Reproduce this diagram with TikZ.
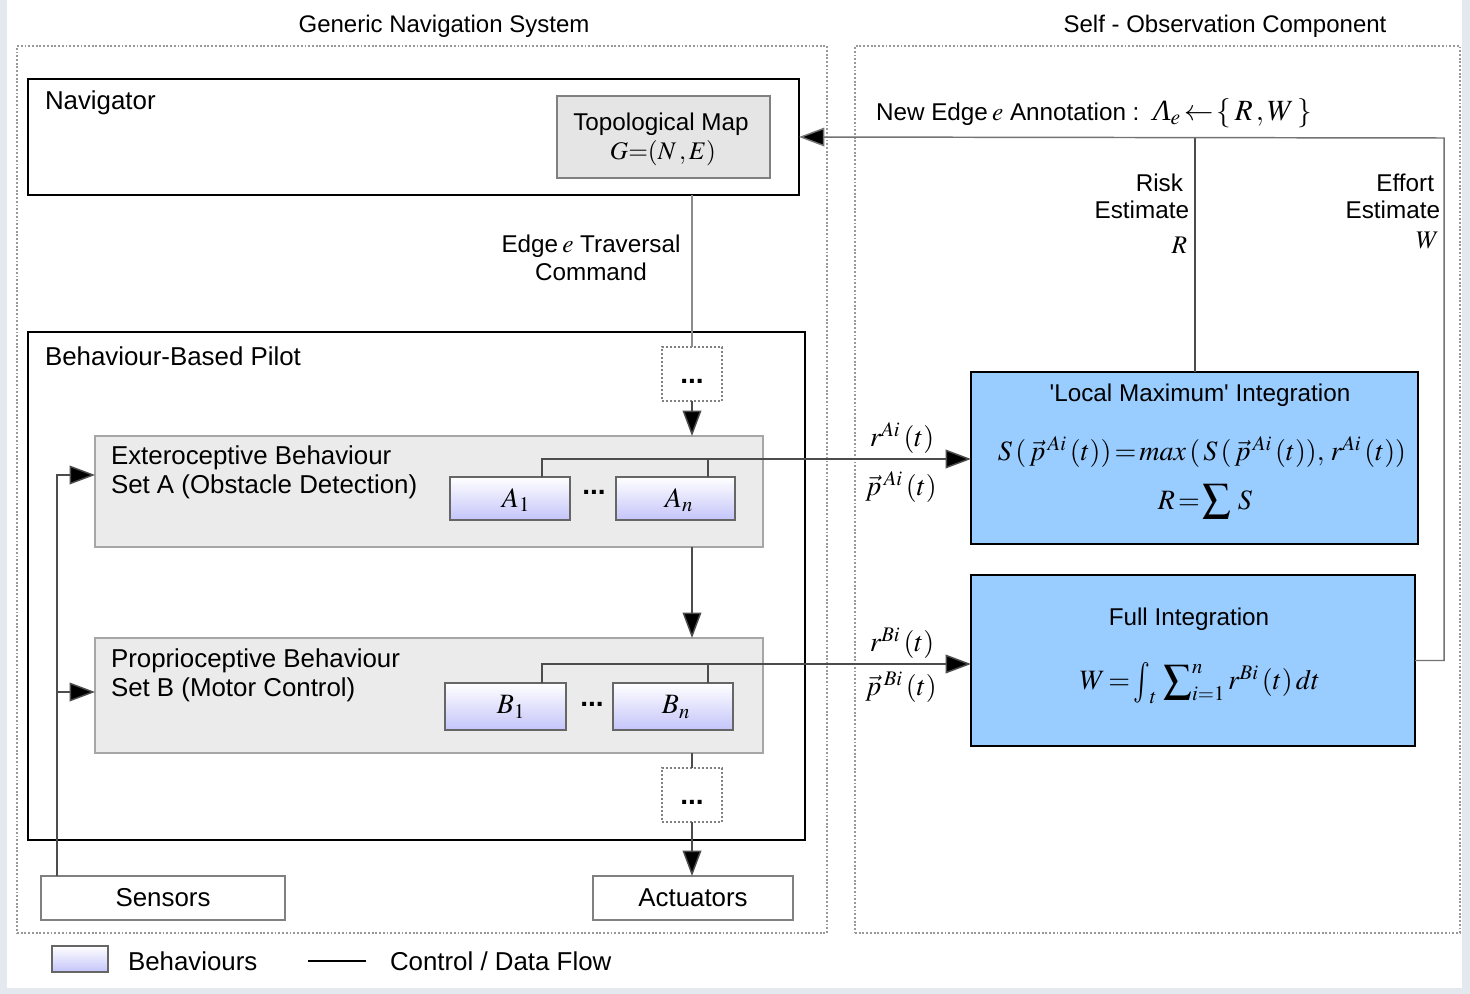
\documentclass[tikz,border=0pt]{standalone}
\usepackage{mathptmx}
\usepackage[no-math]{fontspec}
\setmainfont{Liberation Sans}
\newfontfamily\serifface{Liberation Serif}
\usetikzlibrary{arrows.meta,fit,calc}

\definecolor{pagebg}{RGB}{228,233,239}
\definecolor{behv}{RGB}{196,196,250}
\definecolor{intblue}{RGB}{153,204,255}
\definecolor{setgray}{RGB}{235,235,235}

% a moderately enlarged integral sign
\newcommand{\tallint}{\mathop{\vcenter{\hbox{\scalebox{1}[1.45]{$\int$}}}}\nolimits}

\begin{document}
\begin{tikzpicture}[x=0.75pt,y=-0.75pt,
  every node/.style={inner sep=0pt, outer sep=0pt},
  txt/.style={font=\fontsize{19.4}{22}\selectfont},
  sml/.style={font=\fontsize{18.2}{21}\selectfont},
  ttl/.style={font=\fontsize{18}{20}\selectfont},
  mth/.style={font=\fontsize{19}{22}\selectfont},
  big/.style={font=\fontsize{21}{24}\selectfont},
  dots/.style={font=\fontsize{21}{22}\bfseries},
  frame/.style={draw=black, line width=2.2pt},
  grp/.style={draw=black!40, line width=1pt, dash pattern=on 1.4pt off 1.4pt},
  setbox/.style={draw=black!35, fill=setgray, line width=1.1pt},
  topobox/.style={draw=black!50, fill=black!10, line width=1.1pt},
  beh/.style={draw=black!60, line width=1pt, top color=white, bottom color=behv},
  dotbox/.style={draw=black!50, line width=1pt, dash pattern=on 1.5pt off 1.5pt, fill=white},
  iobox/.style={draw=black!50, line width=1pt, fill=white},
  integ/.style={draw=black, line width=2.2pt, fill=intblue},
  flow/.style={draw=black!70, line width=1.1pt},
  arr/.style={flow, -{Triangle[length=19pt,width=14pt,fill=black]}},
]
% page and margins
\fill[pagebg] (0,0) rectangle (1470,994);
\fill[white] (7,0) rectangle (1462,988);
\useasboundingbox (0,0) rectangle (1470,994);

% group titles and frames
\node[ttl] (t1) at (444,26) {Generic Navigation System};
\node[ttl] (t2) at (1225,26) {Self - Observation Component};
\node[grp, fit={(17,46) (827,933)}] (gns) {};
\node[grp, fit={(855,46) (1460,933)}] (soc) {};

% navigator
\node[frame, fit={(28,79) (799,195)}] (nav) {};
\node[txt, anchor=west] (navl) at (45,103) {Navigator};
\node[topobox, fit={(557,96) (770,178)}] (topo) {};
\node[sml] (topol) at (661,124) {Topological Map};
\node[mth] (topog) at (663,153) {$G{=}(N\,,E)$};

\node[sml, align=center] (cmd) at (591,258) {Edge\,{\fontsize{19}{20}\selectfont$e$} Traversal\\Command};

% pilot
\node[frame, fit={(28,332) (805,840)}] (pilot) {};
\node[txt, anchor=west] (pilotl) at (45,356) {Behaviour-Based Pilot};

\node[dotbox, fit={(662,347) (722,401)}] (d1) {};
\node[dots] (d1l) at (692,381) {...};

% exteroceptive set
\node[setbox, fit={(95,436) (763,547)}] (ext) {};
\node[txt, anchor=west] (extl1) at (111,458) {Exteroceptive Behaviour};
\node[txt, anchor=west] (extl2) at (111,487) {Set A (Obstacle Detection)};
\node[beh, fit={(450,477) (570,520)}] (a1) {};
\node[big] (a1l) at (516,500) {$A_1$};
\node[beh, fit={(616,477) (735,520)}] (an) {};
\node[big] (anl) at (679,500) {$A_n$};
\node[dots] (adots) at (594,492) {...};

% proprioceptive set
\node[setbox, fit={(95,638) (763,753)}] (pro) {};
\node[txt, anchor=west] (prol1) at (111,661) {Proprioceptive Behaviour};
\node[txt, anchor=west] (prol2) at (111,690) {Set B (Motor Control)};
\node[beh, fit={(445,683) (566,730)}] (b1) {};
\node[big] (b1l) at (511,707) {$B_1$};
\node[beh, fit={(613,683) (733,730)}] (bn) {};
\node[big] (bnl) at (676,707) {$B_n$};
\node[dots] (bdots) at (592,704) {...};

\node[dotbox, fit={(662,768) (722,822)}] (d2) {};
\node[dots] (d2l) at (692,802) {...};

% sensors and actuators
\node[iobox, fit={(41,876) (285,920)}] (sens) {};
\node[txt] (sensl) at (sens.center) {Sensors};
\node[iobox, fit={(593,876) (793,920)}] (act) {};
\node[txt] (actl) at (act.center) {Actuators};

% self-observation integrators
\node[integ, fit={(971,372) (1418,544)}] (lm) {};
\node[sml] (lmt) at (1200,395) {\textquotesingle Local Maximum\textquotesingle\ Integration};
\node[big] (lmf1) at (1202,452) {$S\,(\,\vec p^{\,Ai}\,(t))\!=\!\mathit{max}\,(\,S\,(\,\vec p^{\,Ai}\,(t)),\,r^{Ai}\,(t))$};
\node[big] (lmf2) at (1205,502) {$\displaystyle R\!=\!\sum\, S$};

\node[integ, fit={(971,575) (1415,746)}] (fi) {};
\node[sml] (fil) at (1189,619) {Full Integration};
\node[big] (fif) at (1200,683) {$W\!=\!\tallint_t\,{\displaystyle\sum\nolimits_{i=1}^{n}}\, r^{Bi}\,(t)\,dt$};

% signal labels
\node[big] (ra) at (902,438) {$r^{Ai}\,(t)$};
\node[big] (pa) at (901,487) {$\vec p^{\,Ai}\,(t)$};
\node[big] (rb) at (902,643) {$r^{Bi}\,(t)$};
\node[big] (pb) at (901,687) {$\vec p^{\,Bi}\,(t)$};

\node[sml, anchor=west] (ann) at (876,113) {New Edge\,{\fontsize{19}{20}\selectfont$e$} Annotation :\ \ {\fontsize{22}{24}\selectfont{\serifface\itshape Λ}$_e\!\leftarrow\!\{\,R\,,W\,\}$}};
\node[sml, anchor=east] (rk1) at (1183,183) {Risk};
\node[sml, anchor=east] (rk2) at (1189,210) {Estimate};
\node[mth, anchor=east] (rk3) at (1187,245) {$R$};
\node[sml, anchor=east] (ef1) at (1434,183) {Effort};
\node[sml, anchor=east] (ef2) at (1440,210) {Estimate};
\node[mth, anchor=east] (ef3) at (1439,240) {$W$};

% connector anchors
\coordinate (sx) at (57,876);
\coordinate (exin) at (95,475);
\coordinate (proin) at (95,692);
\coordinate (a1tap) at (542,477);
\coordinate (antap) at (708,477);
\coordinate (ain) at (971,459);
\coordinate (b1tap) at (542,683);
\coordinate (bntap) at (708,683);
\coordinate (bin) at (971,664);
\coordinate (rk) at (1195,138);
\coordinate (ef) at (1444,138);

% control / data flow
\draw[flow, draw=black!45] (d1.north) -- (d1.north |- nav.south);
\draw[arr] (d1.south) -- (d1.south |- ext.north);
\draw[arr] (ext.south -| d1.south) -- (pro.north -| d1.south);
\draw[flow] (pro.south -| d2.north) -- (d2.north);
\draw[arr] (d2.south) -- (d2.south |- act.north);

\draw[arr] (sx) |- (exin);
\draw[arr] (sx |- proin) -- (proin);

\draw[arr] (a1tap) |- (ain);
\draw[flow] (antap) -- (antap |- ain);
\draw[arr] (b1tap) |- (bin);
\draw[flow] (bntap) -- (bntap |- bin);

\draw[flow] (lm.north -| rk) -- (rk);
\draw[arr, draw=black!55] (fi.east) -| (ef) -- (nav.east);

% legend
\node[beh, fit={(52,946) (108,972)}] (lg) {};
\node[txt, anchor=west] (lgb) at (128,961) {Behaviours};
\coordinate (l1) at (308,961);
\coordinate (l2) at (366,961);
\draw[line width=2pt] (l1) -- (l2);
\node[txt, anchor=west] (lgf) at (390,961) {Control / Data Flow};
\end{tikzpicture}
\end{document}
